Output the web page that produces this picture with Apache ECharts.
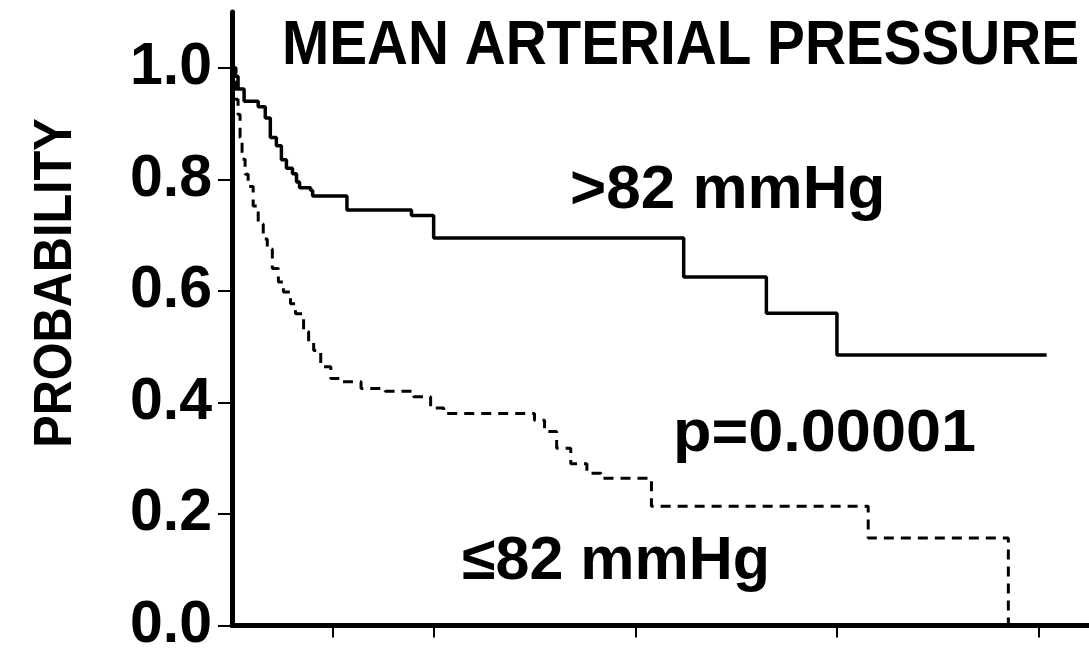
<!DOCTYPE html>
<html>
<head>
<meta charset="utf-8">
<script src="https://cdn.jsdelivr.net/npm/echarts@6/dist/echarts.min.js"></script>
<style>
html,body{margin:0;padding:0;background:#fff;}
#chart{width:1089px;height:655px;}
</style>
</head>
<body>
<div id="chart"></div>
<script>
// Kaplan-Meier curves: [time (axis units), probability]
const highMAP = [
  [0, 1.0], [0.015, 0.985], [0.03, 0.962], [0.06, 0.94], [0.13, 0.93],
  [0.165, 0.91], [0.19, 0.875], [0.22, 0.86], [0.245, 0.835], [0.27, 0.82],
  [0.30, 0.81], [0.32, 0.795], [0.335, 0.785], [0.39, 0.78], [0.40, 0.77],
  [0.57, 0.745], [0.89, 0.735], [1.0, 0.695], [2.24, 0.625], [2.65, 0.56],
  [3.0, 0.485], [4.04, 0.485]
];
const lowMAP = [
  [0, 1.0], [0.02, 0.943], [0.03, 0.916], [0.04, 0.875], [0.05, 0.836],
  [0.065, 0.809], [0.08, 0.787], [0.105, 0.752], [0.13, 0.72], [0.155, 0.693],
  [0.175, 0.675], [0.2, 0.64], [0.23, 0.616], [0.255, 0.598], [0.29, 0.577],
  [0.315, 0.559], [0.355, 0.527], [0.38, 0.509], [0.405, 0.493], [0.44, 0.464],
  [0.49, 0.443], [0.54, 0.437], [0.64, 0.425], [0.76, 0.42], [0.9, 0.41],
  [0.985, 0.39], [1.05, 0.38], [1.5, 0.368], [1.55, 0.348], [1.61, 0.318],
  [1.68, 0.29], [1.76, 0.273], [1.83, 0.264], [2.08, 0.214], [3.155, 0.157],
  [3.85, 0.0], [4.25, 0.0]
];
const yTickValues = [0, 0.2, 0.4, 0.6, 0.8, 1.0];
const xTickValues = [0.5, 1, 2, 3, 4];
const titleText = 'MEAN ARTERIAL PRESSURE';
const yAxisTitle = 'PROBABILITY';
const labelHigh = '>82 mmHg';
const labelLow = '≤82 mmHg';
const pText = 'p=0.00001';

const FONT = '"Liberation Sans", Arial, Helvetica, sans-serif';
const chart = echarts.init(document.getElementById('chart'), null, {renderer: 'canvas'});
chart.setOption({
  backgroundColor: '#ffffff',
  animation: false,
  grid: {left: 232, right: 0, top: 12, bottom: 27, containLabel: false},
  xAxis: {
    type: 'value', min: 0, max: 4.25,
    axisLine: {show: true, onZero: false, lineStyle: {color: '#000', width: 5}},
    axisTick: {show: true, customValues: xTickValues, length: 12, lineStyle: {color: '#000', width: 2}},
    axisLabel: {show: false},
    splitLine: {show: false}
  },
  yAxis: {
    type: 'value', min: 0, max: 1.1,
    axisLine: {show: true, onZero: false, lineStyle: {color: '#000', width: 5}},
    axisTick: {show: true, customValues: yTickValues, length: 14, lineStyle: {color: '#000', width: 2}},
    axisLabel: {
      show: true, customValues: yTickValues, margin: 20,
      formatter: v => v.toFixed(1),
      color: '#000', fontSize: 59, fontWeight: 'bold', fontFamily: FONT
    },
    splitLine: {show: false}
  },
  series: [
    {
      type: 'line', step: 'end', data: highMAP, symbol: 'none',
      lineStyle: {color: '#000', width: 3.5}
    },
    {
      type: 'line', step: 'end', data: lowMAP, symbol: 'none',
      lineStyle: {color: '#000', width: 3, type: [10, 7]}
    }
  ],
  graphic: [
    {type: 'text', x: 282, y: 47, scaleX: 0.9,
     style: {text: titleText, font: 'bold 63px ' + FONT, fill: '#000', align: 'left', verticalAlign: 'middle'}},
    {type: 'text', x: 570, y: 191,
     style: {text: labelHigh, font: 'bold 62px ' + FONT, fill: '#000', align: 'left', verticalAlign: 'middle'}},
    {type: 'text', x: 673, y: 434, scaleX: 1.05,
     style: {text: pText, font: 'bold 60px ' + FONT, fill: '#000', align: 'left', verticalAlign: 'middle'}},
    {type: 'text', x: 462, y: 562,
     style: {text: labelLow, font: 'bold 61px ' + FONT, fill: '#000', align: 'left', verticalAlign: 'middle'}},
    {type: 'text', x: 56, y: 283, rotation: Math.PI / 2, scaleX: 0.9,
     style: {text: yAxisTitle, font: 'bold 54px ' + FONT, fill: '#000', align: 'center', verticalAlign: 'middle'}}
  ]
});
</script>
</body>
</html>
